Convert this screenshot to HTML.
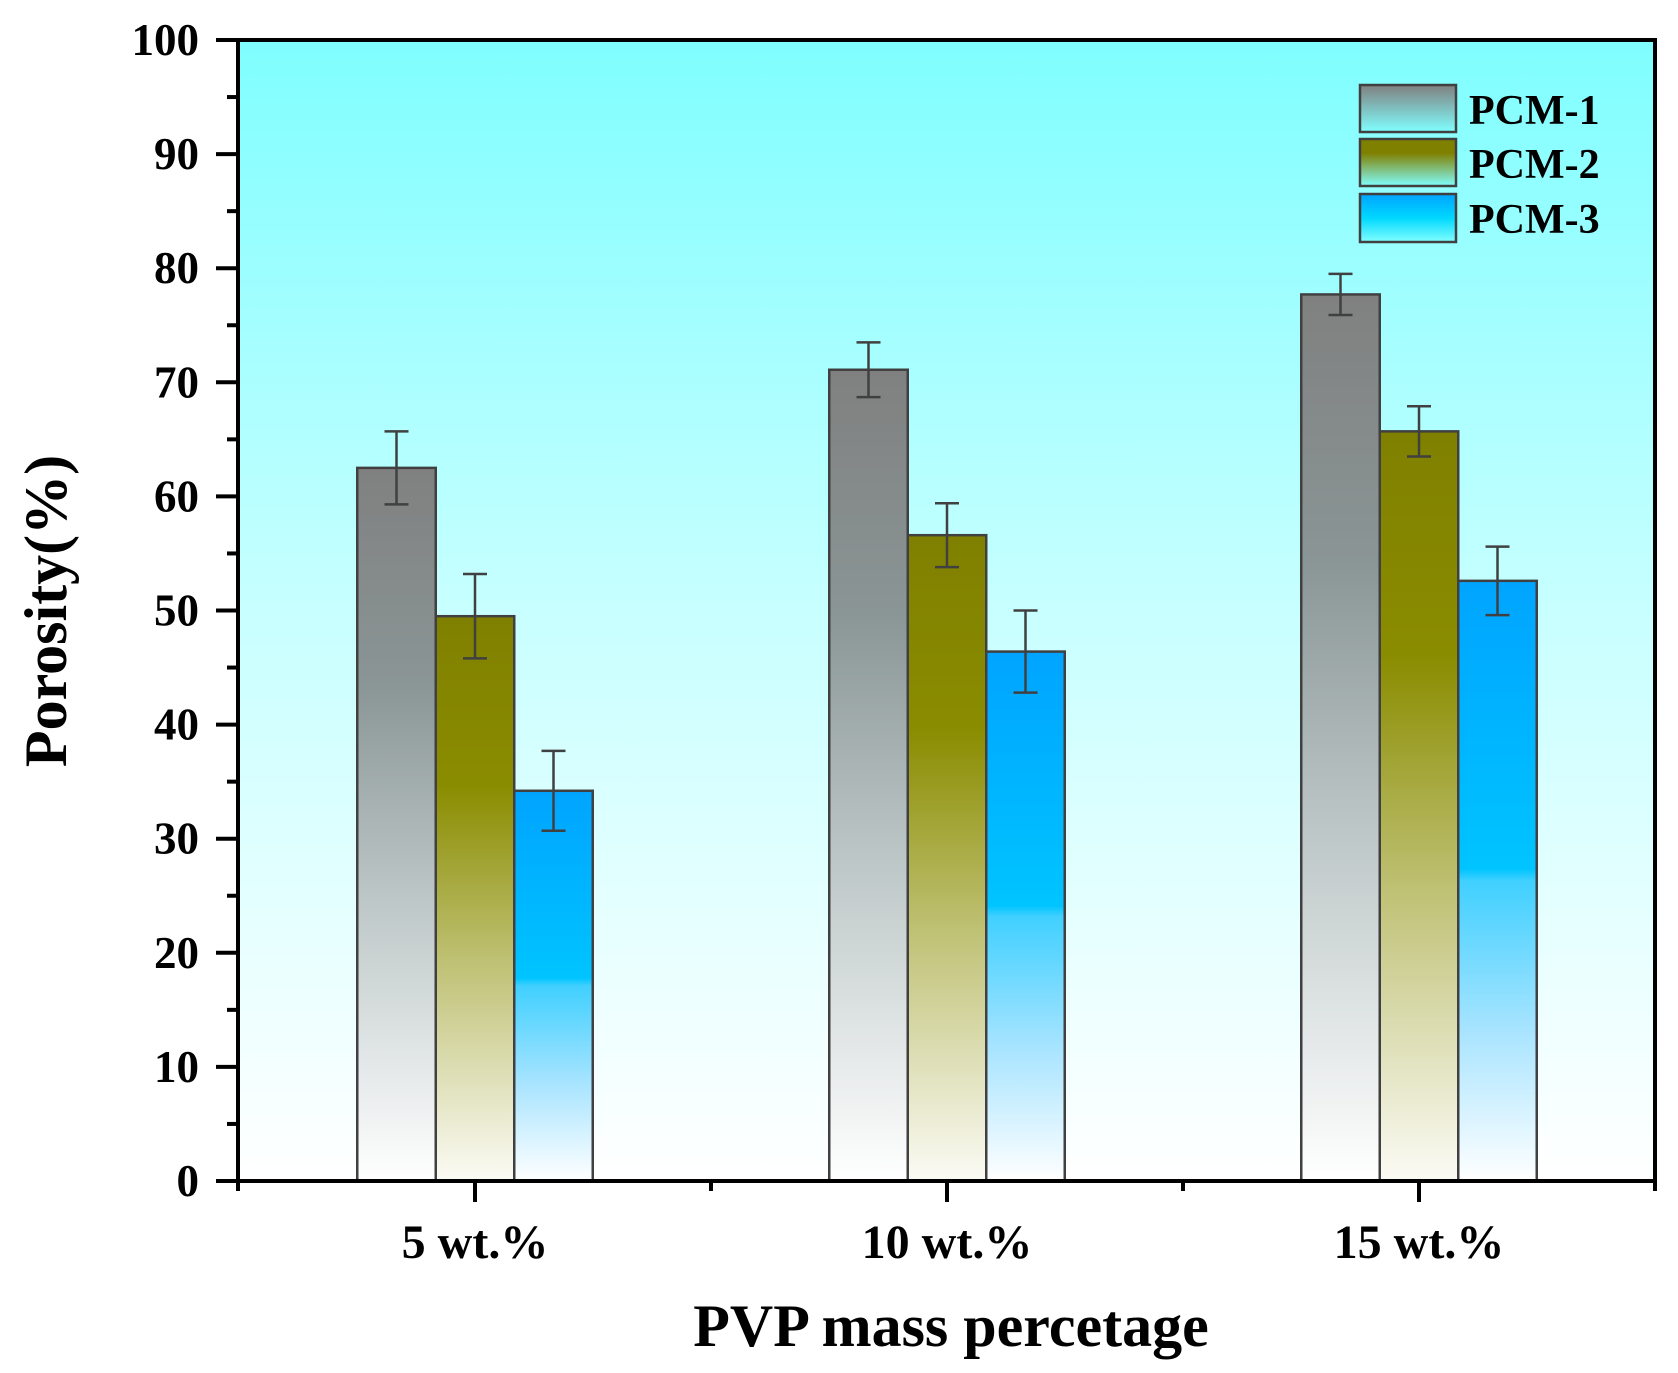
<!DOCTYPE html>
<html><head><meta charset="utf-8"><style>
html,body{margin:0;padding:0;background:#fff;}
svg{display:block;font-family:"Liberation Serif",serif;font-weight:bold;}
</style></head><body>
<svg id="s" width="1678" height="1373" viewBox="0 0 1678 1373" xmlns="http://www.w3.org/2000/svg">
<defs>
<linearGradient id="bg" x1="0" y1="0" x2="0" y2="1">
<stop offset="0" stop-color="#7ffeff"/><stop offset="0.5" stop-color="#c8ffff"/><stop offset="1" stop-color="#ffffff"/></linearGradient>
<linearGradient id="g1" x1="0" y1="0" x2="0" y2="1">
<stop offset="0" stop-color="#808080"/><stop offset="0.3" stop-color="#8a9595"/><stop offset="0.6" stop-color="#bcc6c6"/><stop offset="1" stop-color="#ffffff"/></linearGradient>
<linearGradient id="g2" x1="0" y1="0" x2="0" y2="1">
<stop offset="0" stop-color="#808000"/><stop offset="0.3" stop-color="#8a8c00"/><stop offset="0.6" stop-color="#bdbf70"/><stop offset="1" stop-color="#fbfbf5"/></linearGradient>
<linearGradient id="g3" x1="0" y1="0" x2="0" y2="1">
<stop offset="0" stop-color="#00a4ff"/><stop offset="0.48" stop-color="#00c4ff"/><stop offset="0.5" stop-color="#40d0ff"/><stop offset="0.75" stop-color="#a8e4ff"/><stop offset="1" stop-color="#ffffff"/></linearGradient>
<linearGradient id="l1" x1="0" y1="0" x2="0" y2="1"><stop offset="0" stop-color="#808080"/><stop offset="1" stop-color="#80ffff"/></linearGradient>
<linearGradient id="l2" x1="0" y1="0" x2="0" y2="1"><stop offset="0" stop-color="#808000"/><stop offset="0.3" stop-color="#808000"/><stop offset="1" stop-color="#80ffff"/></linearGradient>
<linearGradient id="l3" x1="0" y1="0" x2="0" y2="1"><stop offset="0" stop-color="#00a4ff"/><stop offset="0.5" stop-color="#00d8ff"/><stop offset="1" stop-color="#80ffff"/></linearGradient>
</defs>
<rect x="238" y="40" width="1417" height="1141" fill="url(#bg)"/>
<g id="bars"></g>
<g id="axes" stroke="#000" stroke-width="4" fill="none"></g>
<g id="txt" font-size="45" fill="#000"></g>
<g font-size="42" fill="#000">
<rect x="1360" y="85" width="96" height="47" fill="url(#l1)" stroke="#404040" stroke-width="2.5"/>
<rect x="1360" y="139" width="96" height="47" fill="url(#l2)" stroke="#404040" stroke-width="2.5"/>
<rect x="1360" y="194" width="96" height="48" fill="url(#l3)" stroke="#404040" stroke-width="2.5"/>
<text x="1469" y="124">PCM-1</text>
<text x="1469" y="178">PCM-2</text>
<text x="1469" y="233">PCM-3</text>
</g>
<text x="951" y="1346" font-size="60" text-anchor="middle">PVP mass percetage</text>
<text transform="translate(66,611) rotate(-90)" font-size="60" text-anchor="middle">Porosity(%)</text>
</svg>
<script>
var NS="http://www.w3.org/2000/svg";
function el(p,t,a,txt){var e=document.createElementNS(NS,t);for(var k in a)e.setAttribute(k,a[k]);if(txt)e.textContent=txt;document.getElementById(p).appendChild(e);return e;}
var y0=1181,sc=11.41;function Y(v){return y0-v*sc;}
var data=[[[62.5,3.2],[49.5,3.7],[34.2,3.5]],[[71.1,2.4],[56.6,2.8],[46.4,3.6]],[[77.7,1.8],[65.7,2.2],[52.6,3.0]]];
var centers=[475,947,1419],bw=78.5;
data.forEach(function(g,i){g.forEach(function(d,j){var x=centers[i]-1.5*bw+j*bw;
el("bars","rect",{x:x,y:Y(d[0]),width:bw,height:d[0]*sc,fill:"url(#g"+(j+1)+")",stroke:"#404040","stroke-width":2.5});
var cx=x+bw/2;
el("bars","line",{x1:cx,x2:cx,y1:Y(d[0]+d[1]),y2:Y(d[0]-d[1]),stroke:"#404040","stroke-width":2.5});
el("bars","line",{x1:cx-12,x2:cx+12,y1:Y(d[0]+d[1]),y2:Y(d[0]+d[1]),stroke:"#404040","stroke-width":2.5});
el("bars","line",{x1:cx-12,x2:cx+12,y1:Y(d[0]-d[1]),y2:Y(d[0]-d[1]),stroke:"#404040","stroke-width":2.5});
});});
el("axes","rect",{x:238,y:40,width:1417,height:1141});
for(var v=0;v<=100;v+=5){var y=Y(v);var L=(v%10==0)?22:11;el("axes","line",{x1:238-L,x2:238,y1:y,y2:y});
if(v%10==0)el("txt","text",{x:199,y:y+15,"text-anchor":"end"},String(v));}
[238,711,1183,1655].forEach(function(x){el("axes","line",{x1:x,x2:x,y1:1181,y2:1191});});
centers.forEach(function(x){el("axes","line",{x1:x,x2:x,y1:1181,y2:1202});});
["5 wt.%","10 wt.%","15 wt.%"].forEach(function(t,i){el("txt","text",{x:centers[i],y:1258,"text-anchor":"middle","font-size":48},t);});
</script>
</body></html>
